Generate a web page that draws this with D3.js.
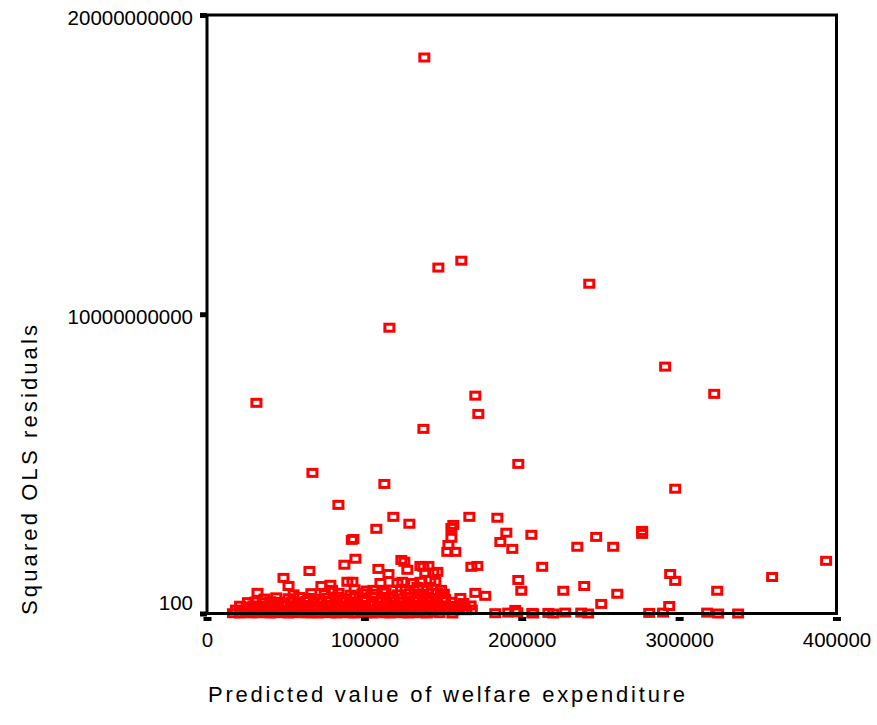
<!DOCTYPE html>
<html lang="en">

<head>
    <meta charset="UTF-8">
    <script src="https://cdn.jsdelivr.net/npm/d3@7/dist/d3.min.js" charset="utf-8"></script>
    <title>Squared OLS residuals</title>
    <style>
        body { margin: 0; background: white; }
        text { font-family: Arial, "Liberation Sans", sans-serif; fill: black; }
    </style>
</head>

<body>
    <script>
        var xTicks = [0, 100000, 200000, 300000, 400000];
        var yTicks = [100, 10000000000, 20000000000];
        var xTitle = "Predicted value of welfare expenditure";
        var yTitle = "Squared OLS residuals";

        // [predicted value, squared residual]
        var upperCases = [
            [138100, 1.858e10], [147000, 1.156e10], [161600, 1.179e10], [242900, 1.102e10],
            [115900, 9.55e9], [291100, 8.25e9], [322300, 7.34e9], [31400, 7.04e9],
            [170500, 7.28e9], [172400, 6.67e9], [137500, 6.17e9], [197800, 5.00e9],
            [67000, 4.70e9], [112700, 4.33e9], [297500, 4.17e9], [83500, 3.63e9],
            [118400, 3.23e9], [166700, 3.23e9], [184500, 3.20e9], [128600, 3.00e9],
            [156500, 2.96e9], [155300, 2.86e9], [107600, 2.83e9], [206100, 2.63e9],
            [276500, 2.76e9], [276500, 2.66e9], [190200, 2.70e9], [93000, 2.49e9],
            [92000, 2.46e9], [155300, 2.53e9], [186400, 2.39e9], [153400, 2.29e9],
            [247300, 2.56e9], [235300, 2.23e9], [258100, 2.23e9], [194000, 2.16e9],
            [157800, 2.06e9], [152700, 2.06e9], [94300, 1.83e9], [393400, 1.76e9],
            [123500, 1.79e9], [125400, 1.73e9], [87300, 1.63e9], [213000, 1.56e9],
            [168000, 1.56e9], [171800, 1.59e9], [137500, 1.56e9], [146400, 1.39e9],
            [108900, 1.49e9], [115300, 1.32e9], [127300, 1.46e9], [65100, 1.42e9],
            [294300, 1.32e9], [297500, 1.09e9], [359100, 1.22e9], [48600, 1.19e9],
            [197800, 1.12e9], [135600, 1.59e9], [140700, 1.59e9], [138700, 1.36e9],
            [143800, 1.36e9]
        ];

        var midCases = [
            [51800, 9.2e8], [32100, 6.9e8], [72700, 9.2e8], [78400, 9.6e8], [89200, 1.06e9],
            [92400, 1.06e9], [110200, 1.02e9], [105700, 7.9e8], [112100, 7.9e8], [121000, 1.02e9],
            [124100, 1.06e9], [131100, 1.02e9], [135600, 1.06e9], [141900, 1.12e9], [145100, 1.06e9],
            [146400, 6.9e8], [140000, 7.9e8], [133700, 8.9e8], [170500, 6.9e8], [176800, 5.9e8],
            [161000, 5.2e8], [162900, 3.5e8], [199700, 7.6e8], [226400, 7.6e8], [239700, 9.2e8],
            [260700, 6.6e8], [250500, 3.2e8], [293700, 2.5e8], [195900, 1.2e8], [324200, 7.6e8]
        ];

        var zeroLineCases = [
            [155900, 0], [183200, 1e7], [191400, 3e7], [197200, 4e7], [207300, 0], [206700, 2e7],
            [216900, 2e7], [220000, 0], [227600, 3e7], [237800, 3e7], [242200, 0], [281000, 2e7],
            [289800, 3e7], [317800, 3e7], [324800, 0], [337500, 0]
        ];

        var bandCases = [
            [16500, 1e7], [20800, 0], [24600, 2e7], [28300, 5e6], [32400, 1e7], [36000, 3e7], [40100, 0],
            [43700, 1e7], [47900, 2e7], [51600, 0], [55300, 1e7], [59200, 3e7], [63000, 5e6], [66800, 1e7],
            [70400, 0], [74600, 2e7], [78100, 1e7], [82300, 0], [85900, 3e7], [89800, 1e7], [93500, 0],
            [97600, 2e7], [101200, 1e7], [105100, 0], [108700, 3e7], [112900, 1e7], [116400, 0], [120600, 2e7],
            [124200, 1e7], [128100, 0], [131800, 2e7], [135500, 1e7], [139700, 0], [143200, 3e7], [147800, 1e7],

            [18400, 1.3e8], [22700, 1.0e8], [26500, 1.4e8], [30600, 1.1e8], [34200, 1.2e8], [38300, 0.9e8],
            [42000, 1.5e8], [45900, 1.2e8], [49800, 1.0e8], [53600, 1.4e8], [57400, 1.1e8], [61300, 1.3e8],
            [65000, 1.0e8], [68900, 1.5e8], [72800, 1.2e8], [76400, 1.1e8], [80500, 1.4e8], [84100, 1.0e8],
            [88000, 1.3e8], [91900, 1.2e8], [95700, 1.5e8], [99300, 1.1e8], [103400, 1.2e8], [107000, 1.4e8],
            [110900, 1.0e8], [114700, 1.3e8], [118800, 1.2e8], [122300, 1.5e8], [126300, 1.1e8], [130000, 1.3e8],
            [133900, 1.0e8], [137700, 1.4e8], [141500, 1.2e8], [145300, 1.1e8], [149200, 1.5e8], [153000, 1.2e8],
            [156900, 1.0e8], [160400, 1.4e8], [164800, 1.1e8], [168300, 1.3e8],

            [21000, 2.6e8], [25200, 2.3e8], [29400, 2.7e8], [33300, 2.4e8], [37400, 2.5e8], [41200, 2.8e8],
            [45400, 2.3e8], [49300, 2.6e8], [53200, 2.5e8], [57100, 2.2e8], [61200, 2.7e8], [65100, 2.4e8],
            [69000, 2.6e8], [73100, 2.3e8], [76900, 2.8e8], [81000, 2.5e8], [84800, 2.4e8], [88900, 2.7e8],
            [92700, 2.3e8], [96800, 2.6e8], [100600, 2.5e8], [104700, 2.8e8], [108500, 2.4e8], [112600, 2.6e8],
            [116500, 2.3e8], [120300, 2.7e8], [124400, 2.5e8], [128300, 2.4e8], [132100, 2.8e8], [136200, 2.6e8],
            [140000, 2.3e8], [144100, 2.5e8], [148000, 2.7e8], [151800, 2.4e8], [155900, 2.6e8], [159700, 2.3e8],
            [163600, 2.5e8], [167500, 2.7e8],

            [26000, 3.8e8], [30800, 4.0e8], [35500, 3.7e8], [40200, 4.1e8], [44600, 3.9e8], [49300, 3.6e8],
            [54000, 4.0e8], [58700, 3.8e8], [63100, 4.2e8], [67900, 3.7e8], [72400, 3.9e8], [77000, 4.1e8],
            [81700, 3.8e8], [86300, 4.0e8], [90900, 3.6e8], [95400, 3.9e8], [100100, 4.2e8], [104800, 3.8e8],
            [109200, 4.0e8], [113900, 3.7e8], [118500, 4.1e8], [123100, 3.9e8], [127800, 3.8e8], [132400, 4.2e8],
            [136900, 3.7e8], [141600, 4.0e8], [146200, 3.8e8], [150800, 4.1e8], [155300, 3.9e8],

            [36500, 5.0e8], [44000, 5.4e8], [51800, 5.1e8], [58600, 5.5e8], [64500, 5.2e8], [70200, 4.9e8],
            [76800, 5.3e8], [82100, 5.6e8], [88400, 5.0e8], [94200, 5.4e8], [99800, 5.2e8], [105600, 5.5e8],
            [111300, 4.9e8], [117200, 5.3e8], [122700, 5.1e8], [128600, 5.6e8], [134300, 5.0e8], [140100, 5.4e8],
            [145800, 5.2e8], [151200, 4.9e8],

            [55000, 6.4e8], [66300, 6.8e8], [74800, 6.5e8], [83600, 6.9e8], [91200, 6.3e8], [98700, 6.7e8],
            [106300, 6.6e8], [113500, 7.0e8], [121400, 6.4e8], [128800, 6.8e8], [136000, 6.5e8], [143300, 6.9e8],
            [150500, 6.6e8],

            [79500, 7.9e8], [93800, 8.1e8], [101400, 7.7e8], [117600, 8.0e8], [126200, 7.8e8], [137000, 8.2e8],
            [148700, 7.9e8]
        ];

        var width = 877;
        var height = 725;
        var plotLeft = 207, plotRight = 836.5, plotTop = 15, plotBottom = 613.5;

        var x = d3.scaleLinear().domain([0, 400000]).range([plotLeft, plotRight]);
        var y = d3.scaleLinear().domain([0, 20000000000]).range([plotBottom, plotTop]);

        var svg = d3.select("body").append("svg").attr("width", width).attr("height", height).style("background", "white");

        var allCases = bandCases.concat(zeroLineCases, midCases, upperCases);

        svg.append("g").selectAll("rect").data(allCases).enter().append("rect")
            .attr("x", function (d) { return x(d[0]) - 4.5; })
            .attr("y", function (d) { return y(d[1]) - 3.5; })
            .attr("width", 9)
            .attr("height", 7)
            .style("fill", "none")
            .style("stroke", "#ff0000")
            .style("stroke-width", 3);

        // y axis
        var yAxis = svg.append("g").attr("transform", "translate(" + plotLeft + ",0)")
            .call(d3.axisLeft(y).tickValues(yTicks).tickSize(7).tickFormat(d3.format("d")));
        yAxis.select(".domain").remove();
        yAxis.selectAll("line").style("stroke", "black").style("stroke-width", 5);
        yAxis.selectAll("text")
            .attr("x", -14)
            .attr("dy", function (d) { return d < 1000 ? "-4px" : "9px"; })
            .style("font-size", "20.5px")
            .style("font-family", "Arial, 'Liberation Sans', sans-serif")
            .style("fill", "black");

        // x axis
        var xAxis = svg.append("g").attr("transform", "translate(0," + plotBottom + ")")
            .call(d3.axisBottom(x).tickValues(xTicks).tickSize(8).tickFormat(d3.format("d")));
        xAxis.select(".domain").remove();
        xAxis.selectAll("line").attr("y1", 3.5).attr("y2", 7.5).style("stroke", "black").style("stroke-width", 8);
        xAxis.selectAll("text")
            .attr("y", 18.5)
            .style("font-size", "20.5px")
            .style("font-family", "Arial, 'Liberation Sans', sans-serif")
            .style("fill", "black");

        // frame drawn over the markers
        svg.append("rect")
            .attr("x", plotLeft).attr("y", plotTop)
            .attr("width", plotRight - plotLeft).attr("height", plotBottom - plotTop)
            .style("fill", "none").style("stroke", "black").style("stroke-width", 3);

        svg.append("text")
            .attr("x", 446.5).attr("y", 702)
            .attr("text-anchor", "middle")
            .attr("textLength", 477).attr("lengthAdjust", "spacing")
            .style("font-size", "22px")
            .text(xTitle);

        svg.append("text")
            .attr("transform", "translate(37,470) rotate(-90)")
            .attr("text-anchor", "middle")
            .attr("textLength", 290).attr("lengthAdjust", "spacing")
            .style("font-size", "22px")
            .text(yTitle);
    </script>
</body>

</html>
